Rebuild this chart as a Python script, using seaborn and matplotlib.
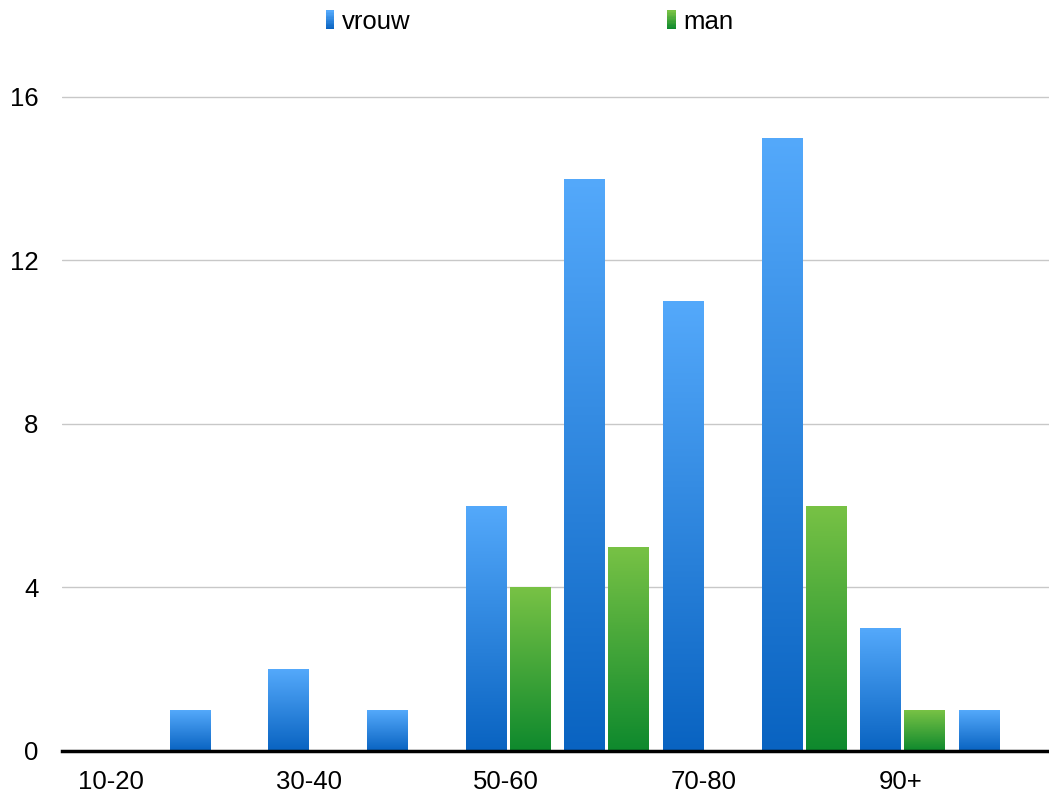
import numpy as np
import pandas as pd
import matplotlib
matplotlib.use("Agg")
import matplotlib.pyplot as plt
import seaborn as sns
from matplotlib.colors import LinearSegmentedColormap, to_rgb
from matplotlib.patches import Rectangle
from matplotlib.legend_handler import HandlerBase

# ---- data ----
categories = ["10-20", "20-30", "30-40", "40-50", "50-60", "60-70", "70-80", "80-90", "90+", "onbekend"]
vrouw = [0, 1, 2, 1, 6, 14, 11, 15, 3, 1]
man = [0, 0, 0, 0, 4, 5, 0, 6, 1, 0]
series_names = ["vrouw", "man"]
y_ticks = [0, 4, 8, 12, 16]

# colours (top -> bottom of each bar)
grad = {
    "vrouw": ("#54a9fb", "#0963c1"),
    "man": ("#78c245", "#0e892d"),
}

df = pd.DataFrame({
    "cat": categories * 2,
    "val": vrouw + man,
    "serie": ["vrouw"] * len(categories) + ["man"] * len(categories),
})

sns.set_theme(style="white")
plt.rcParams["font.family"] = ["Liberation Sans", "DejaVu Sans"]
plt.rcParams["text.color"] = "black"

fig = plt.figure(figsize=(10.49, 7.93), dpi=100)
ax = fig.add_axes([62 / 1049, 1 - 751 / 793, 1 - 62 / 1049, 695 / 793])

sns.barplot(data=df, x="cat", y="val", hue="serie", order=categories,
            hue_order=series_names, width=0.89, gap=0.067,
            palette={"vrouw": grad["vrouw"][1], "man": grad["man"][1]},
            legend=False, ax=ax, zorder=3)

# gradient fill for each bar
for container, name in zip(ax.containers, series_names):
    top, bot = grad[name]
    cmap = LinearSegmentedColormap.from_list(name, [bot, top])
    for patch in container.patches:
        patch.set_x(patch.get_x() + 0.02)
        h = patch.get_height()
        if h <= 0:
            patch.set_visible(False)
            continue
        x0 = patch.get_x()
        w = patch.get_width()
        patch.set_facecolor("none")
        patch.set_edgecolor("none")
        img = np.linspace(0, 1, 256).reshape(-1, 1)
        im = ax.imshow(img, cmap=cmap, origin="lower", aspect="auto",
                       extent=[x0, x0 + w, 0, h], zorder=3)
        im.set_clip_path(patch)

ax.set_xlim(-0.5, len(categories) - 0.5)
ax.set_ylim(0, 17)

# grid & spines
ax.set_yticks(y_ticks)
ax.yaxis.grid(True, color="#c8c8c8", linewidth=1, zorder=0)
ax.xaxis.grid(False)
for s in ["left", "right", "top"]:
    ax.spines[s].set_visible(False)
ax.spines["bottom"].set_color("black")
ax.spines["bottom"].set_linewidth(2.5)
ax.spines["bottom"].set_zorder(5)
ax.set_axisbelow(True)

ax.set_xticks(range(len(categories)))
ax.set_xticklabels([c if i % 2 == 0 else "" for i, c in enumerate(categories)])
ax.tick_params(axis="x", length=0, pad=14, labelsize=18.5, colors="black")
ax.tick_params(axis="y", length=0, pad=17, labelsize=18.5, colors="black")
ax.set_xlabel("")
ax.set_ylabel("")


# legend with gradient squares
class GradHandler(HandlerBase):
    def __init__(self, top, bot, n=14):
        super().__init__()
        self.top = np.array(to_rgb(top))
        self.bot = np.array(to_rgb(bot))
        self.n = n

    def create_artists(self, legend, orig_handle, xdescent, ydescent,
                       width, height, fontsize, trans):
        arts = []
        for i in range(self.n):
            t = i / (self.n - 1)
            c = self.bot * (1 - t) + self.top * t
            r = Rectangle((-xdescent, -ydescent + height * i / self.n),
                          width, height / self.n + 0.3, facecolor=c,
                          edgecolor="none", transform=trans)
            arts.append(r)
        return arts


h_v = Rectangle((0, 0), 1, 1)
h_m = Rectangle((0, 0), 1, 1)
fig.legend([h_v, h_m], series_names, loc="center",
           bbox_to_anchor=(0.505, 1 - 22 / 793), ncol=2, frameon=False,
           fontsize=18.5, handlelength=0.33, handleheight=0.75,
           handletextpad=0.3, columnspacing=10.0, borderpad=0,
           labelcolor="black",
           handler_map={h_v: GradHandler(*grad["vrouw"]),
                        h_m: GradHandler(*grad["man"])})

fig.savefig("out.png", dpi=100)
